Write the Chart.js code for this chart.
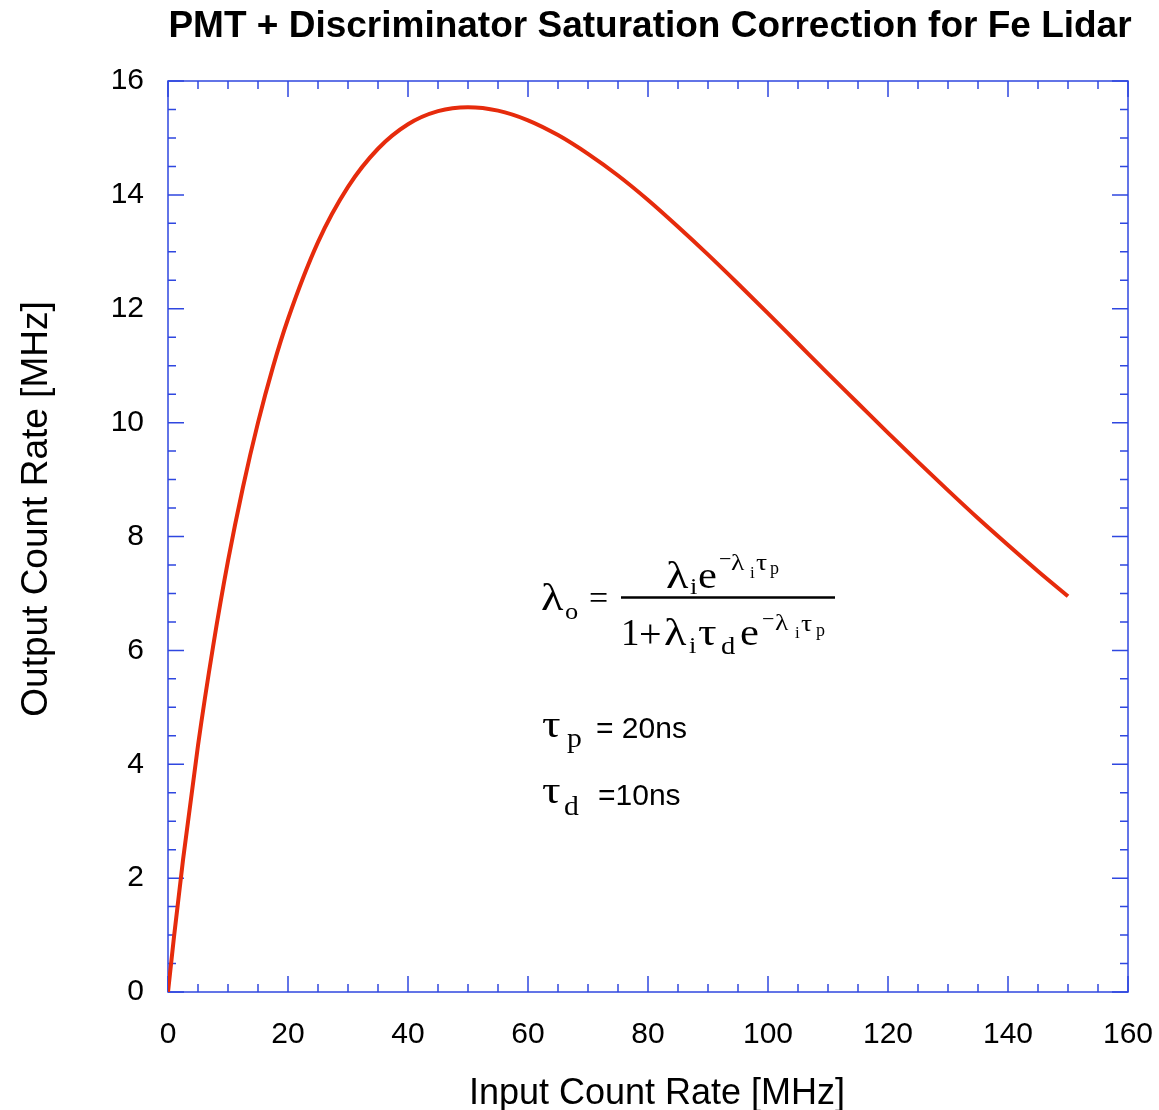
<!DOCTYPE html>
<html>
<head>
<meta charset="utf-8">
<script src="https://cdn.jsdelivr.net/npm/chart.js@4"></script>
<style>
  body { margin: 0; background: #fff; }
  #wrap { width: 1159px; height: 1110px; }
</style>
</head>
<body>
<div id="wrap"><canvas id="satChart"></canvas></div>
<script>
// ========== DATOS ==========
const inputRate = [0, 1, 2.5, 5, 7.5, 10, 12.5, 15, 17.5, 20, 25, 30, 35, 40, 45, 50, 55, 60, 65, 70,
    75, 80, 85, 90, 95, 100, 105, 110, 115, 120, 125, 130, 135, 140, 145, 150];
const outputRate = [0, 0.97, 2.32, 4.33, 6.06, 7.57, 8.87, 10.00, 10.98, 11.82, 13.17, 14.14, 14.81, 15.24,
    15.47, 15.54, 15.48, 15.31, 15.05, 14.72, 14.34, 13.91, 13.44, 12.95, 12.44, 11.92, 11.39, 10.86,
    10.34, 9.82, 9.31, 8.81, 8.32, 7.85, 7.39, 6.95];
const xTicks = [0, 20, 40, 60, 80, 100, 120, 140, 160];
const yTicks = [0, 2, 4, 6, 8, 10, 12, 14, 16];

const titulo = 'PMT + Discriminator Saturation Correction for Fe Lidar';
const tituloX = 'Input Count Rate [MHz]';
const tituloY = 'Output Count Rate [MHz]';

const SANS = '"Liberation Sans", Arial, Helvetica, sans-serif';
const SERIF = '"Liberation Serif", "Times New Roman", serif';
const AZUL = '#2f47e0';

// Marco azul con marcas hacia dentro en los cuatro lados
const marcoPlugin = {
    id: 'marco',
    beforeDatasetsDraw(chart) {
        const { ctx, chartArea: a, scales: { x, y } } = chart;
        ctx.save();
        ctx.strokeStyle = AZUL;
        ctx.lineWidth = 1.5;
        ctx.strokeRect(a.left, a.top, a.right - a.left, a.bottom - a.top);
        ctx.beginPath();
        for (let v = x.min; v <= x.max; v += 5) {
            const px = x.getPixelForValue(v);
            const len = v % 20 === 0 ? 16 : 8;
            ctx.moveTo(px, a.bottom); ctx.lineTo(px, a.bottom - len);
            ctx.moveTo(px, a.top); ctx.lineTo(px, a.top + len);
        }
        for (let v = y.min; v <= y.max; v += 0.5) {
            const py = y.getPixelForValue(v);
            const len = v % 2 === 0 ? 16 : 8;
            ctx.moveTo(a.left, py); ctx.lineTo(a.left + len, py);
            ctx.moveTo(a.right, py); ctx.lineTo(a.right - len, py);
        }
        ctx.stroke();
        ctx.restore();
    }
};

// glifos de la ecuación: [texto, x, línea base, tamaño, estiramiento horizontal]
function glifos(ctx, lista) {
    lista.forEach(([t, px, py, size, sx]) => {
        ctx.save();
        ctx.font = size + 'px ' + SERIF;
        ctx.translate(px, py);
        ctx.scale(sx || 1, 1);
        ctx.fillText(t, 0, 0);
        ctx.restore();
    });
}

const textoPlugin = {
    id: 'texto',
    afterDraw(chart) {
        const { ctx } = chart;
        ctx.save();
        ctx.fillStyle = '#000';
        ctx.textAlign = 'center';
        ctx.textBaseline = 'alphabetic';
        ctx.font = 'bold 37px ' + SANS;
        ctx.fillText(titulo, 650, 37);
        ctx.font = '36px ' + SANS;
        ctx.fillText(tituloX, 657, 1104);
        ctx.translate(47, 509);
        ctx.rotate(-Math.PI / 2);
        ctx.font = '37px ' + SANS;
        ctx.fillText(tituloY, 0, 0);
        ctx.restore();

        ctx.save();
        ctx.fillStyle = '#000';
        ctx.textAlign = 'left';
        ctx.textBaseline = 'alphabetic';
        glifos(ctx, [
            ['λ', 541, 610, 37, 1.25], ['o', 565, 619, 24, 1.1], ['=', 589, 609, 34],
            ['λ', 666, 588, 37, 1.25], ['i', 690, 594, 24, 1.1], ['e', 698, 588, 37, 1.15],
            ['−', 719, 566, 22], ['λ', 731, 570, 24, 1.15], ['i', 750, 578, 17], ['τ', 756, 570, 24, 1.15], ['p', 770, 574, 18],
            ['1', 621, 645, 37], ['+', 639, 647, 40], ['λ', 664, 645, 37, 1.25], ['i', 689, 653, 24, 1.1],
            ['τ', 698, 645, 37, 1.25], ['d', 721, 654, 26, 1.1], ['e', 740, 645, 37, 1.15],
            ['−', 762, 626, 22], ['λ', 775, 630, 24, 1.15], ['i', 795, 638, 17], ['τ', 801, 631, 24, 1.15], ['p', 816, 636, 18],
            ['τ', 542, 737, 37, 1.25], ['p', 567, 747, 27, 1.1],
            ['τ', 542, 803, 37, 1.25], ['d', 564, 815, 27, 1.1]
        ]);
        ctx.strokeStyle = '#000';
        ctx.lineWidth = 2.5;
        ctx.beginPath();
        ctx.moveTo(621, 597.5); ctx.lineTo(835, 597.5);
        ctx.stroke();
        ctx.font = '30px ' + SANS;
        ctx.fillText('= 20ns', 596, 738);
        ctx.fillText('=10ns', 598, 805);
        ctx.restore();
    }
};

const ctx = document.getElementById('satChart').getContext('2d');
const saturacionChart = new Chart(ctx, {
    type: 'line',
    data: {
        datasets: [{
            data: inputRate.map((v, i) => ({ x: v, y: outputRate[i] })),
            borderColor: '#e62b0c',
            borderWidth: 4,
            pointRadius: 0,
            cubicInterpolationMode: 'monotone',
            fill: false
        }]
    },
    options: {
        responsive: true,
        maintainAspectRatio: false,
        animation: false,
        layout: { padding: { top: 81, right: 31, left: 0, bottom: 0 } },
        plugins: {
            legend: { display: false },
            tooltip: { enabled: false }
        },
        scales: {
            x: {
                type: 'linear',
                min: 0,
                max: 160,
                afterBuildTicks: (s) => { s.ticks = xTicks.map(v => ({ value: v })); },
                afterFit: (s) => { s.height = 118; s.paddingLeft = 0; s.paddingRight = 0; },
                grid: { display: false },
                border: { display: false },
                ticks: { color: '#000', padding: 17, font: { family: SANS, size: 30 } }
            },
            y: {
                type: 'linear',
                min: 0,
                max: 16,
                afterBuildTicks: (s) => { s.ticks = yTicks.map(v => ({ value: v })); },
                afterFit: (s) => { s.width = 168; s.paddingTop = 0; s.paddingBottom = 0; },
                grid: { display: false },
                border: { display: false },
                ticks: { color: '#000', padding: 16, font: { family: SANS, size: 30 } }
            }
        }
    },
    plugins: [marcoPlugin, textoPlugin]
});
</script>
</body>
</html>
